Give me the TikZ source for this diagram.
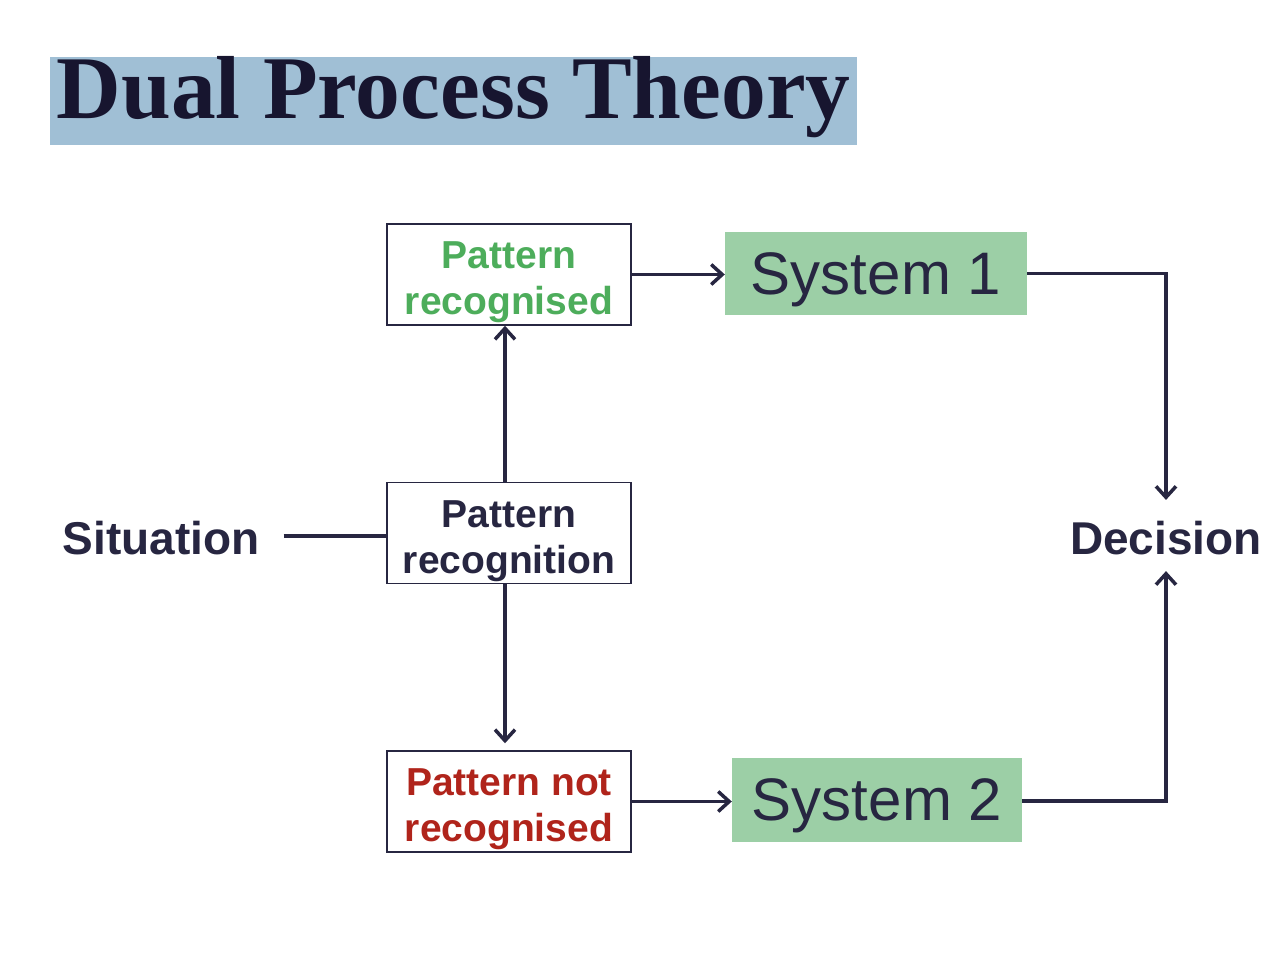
\documentclass[tikz,border=0pt]{standalone}
\usepackage{fontspec}
\setmainfont{Liberation Sans}
\newfontfamily\titlefont{Liberation Serif}
\usetikzlibrary{arrows.meta}
\definecolor{ink}{HTML}{272641}
\definecolor{titleink}{HTML}{17152F}
\definecolor{titleblue}{HTML}{A0BFD5}
\definecolor{okgreen}{HTML}{4DAD5B}
\definecolor{nored}{HTML}{B0241B}
\definecolor{sysgreen}{HTML}{9CCFA6}
\newcommand\twolines[2]{\begin{tabular}{@{}c@{}}\rule{0pt}{48pt}#1\\#2\end{tabular}}
\tikzset{
  pbox/.style={draw=ink, line width=1.5pt, fill=white, minimum width=244pt, minimum height=101pt,
    inner xsep=0pt, inner ysep=-3.4pt, font=\bfseries\fontsize{39}{46}\selectfont},
  sysbox/.style={fill=sysgreen, inner sep=0pt, text=ink, text depth=0pt, font=\fontsize{60}{60}\selectfont},
  lbl/.style={inner sep=0pt, text=ink, font=\bfseries\fontsize{46}{46}\selectfont},
  ln/.style={draw=ink, line width=3.5pt},
  ar/.style={ln, -{Straight Barb[length=11pt,width=20pt,line width=3.5pt]}},
}
\begin{document}
\begin{tikzpicture}[x=1pt,y=-1pt]
\useasboundingbox (0,0) rectangle (1286,966);
\node[fill=titleblue, anchor=north west, inner sep=0pt, minimum width=807pt,
  text height=61pt, text depth=27pt, text=titleink,
  font=\titlefont\bfseries\fontsize{89.5}{89.5}\selectfont] (title) at (50,57) {Dual Process Theory};

\node[pbox, text=okgreen] (pr) at (509,274.5) {\twolines{Pattern}{recognised}};
\node[pbox, text=ink] (rec) at (509,533) {\twolines{Pattern}{recognition}};
\node[pbox, text=nored] (pnr) at (509,801.5) {\twolines{Pattern not}{recognised}};

\node[sysbox, minimum width=302pt, minimum height=83pt] (s1) at (876,273.5) {System 1};
\node[sysbox, minimum width=290pt, minimum height=84pt] (s2) at (877,800) {System 2};

\node[lbl] (sit) at (161,538) {Situation};
\node[lbl] (dec) at (1166,538) {Decision};

\draw[ln, shorten <=24pt] (sit.east |- 0,536) coordinate (sitend) -- (sitend -| rec.west);
\draw[ar] ([xshift=-4pt]rec.north) -- ([xshift=-4pt]pr.south);
\draw[ar, shorten >=7pt] ([xshift=-4pt]rec.south) -- ([xshift=-4pt]pnr.north);
\draw[ar] (pr.east) -- (pr.east -| s1.west);
\draw[ar] (pnr.east) -- (pnr.east -| s2.west);
\draw[ar, shorten >=21pt] (s1.east) -| (dec.north);
\draw[ar, shorten >=16pt] (s2.east |- 0,801) -| (dec.south);
\end{tikzpicture}
\end{document}
